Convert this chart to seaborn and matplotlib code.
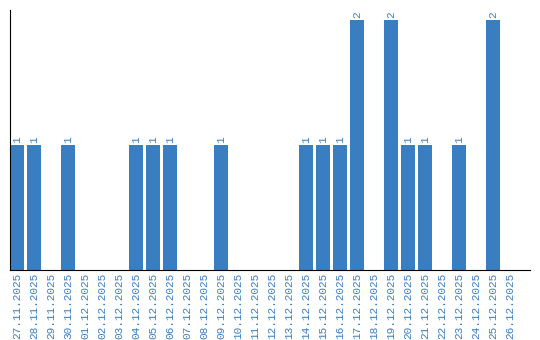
import matplotlib
matplotlib.use("Agg")
import matplotlib.pyplot as plt
import seaborn as sns
import pandas as pd

dates = ["27.11.2025", "28.11.2025", "29.11.2025", "30.11.2025", "01.12.2025",
         "02.12.2025", "03.12.2025", "04.12.2025", "05.12.2025", "06.12.2025",
         "07.12.2025", "08.12.2025", "09.12.2025", "10.12.2025", "11.12.2025",
         "12.12.2025", "13.12.2025", "14.12.2025", "15.12.2025", "16.12.2025",
         "17.12.2025", "18.12.2025", "19.12.2025", "20.12.2025", "21.12.2025",
         "22.12.2025", "23.12.2025", "24.12.2025", "25.12.2025", "26.12.2025"]
counts = [1, 1, 0, 1, 0, 0, 0, 1, 1, 1, 0, 0, 1, 0, 0, 0, 0, 1, 1, 1,
          2, 0, 2, 1, 1, 0, 1, 0, 2, 0]

color = "#3a7ec2"
df = pd.DataFrame({"date": dates, "count": counts})

sns.set_style("white")
fig = plt.figure(figsize=(5.4, 3.4), dpi=100)
ax = fig.add_axes([10/540, 70/340, 520/540, 260/340])
sns.barplot(data=df, x="date", y="count", color=color, saturation=1,
            width=14/17, ax=ax, order=dates, linewidth=0, edgecolor="none")

for i, v in enumerate(counts):
    if v > 0:
        ax.text(i, v + 0.02, str(v), rotation=90, ha="center", va="bottom",
                color=color, fontsize=8, family="Liberation Mono")

ax.set_xlim(-7/17, 30.18)
ax.set_ylim(0, 2.08)
ax.set_xlabel("")
ax.set_ylabel("")
ax.set_yticks([])
ax.tick_params(axis="x", length=0, pad=2)
ax.set_xticks(range(len(dates)))
ax.set_xticklabels(dates, rotation=90, color=color, fontsize=8,
                   family="Liberation Mono")
for s in ["top", "right"]:
    ax.spines[s].set_visible(False)
for s in ["left", "bottom"]:
    ax.spines[s].set_color("black")
    ax.spines[s].set_linewidth(0.8)

fig.savefig("out.png", dpi=100)
